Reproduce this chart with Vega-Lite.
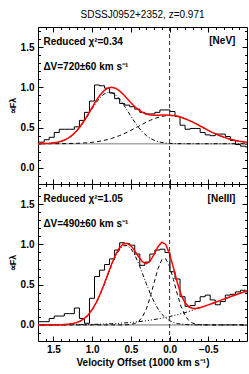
{
  "$schema": "https://vega.github.io/schema/vega-lite/v6.json",
  "padding": {"left": 7, "top": 10, "right": 0, "bottom": 0},
  "title": {"text": "SDSSJ0952+2352, z=0.971", "fontSize": 10, "fontWeight": "normal", "font": "Liberation Sans", "color": "black", "offset": 6, "anchor": "middle", "frame": "group"},
  "spacing": 0,
  "bounds": "flush",
  "config": {
    "view": {"stroke": "black", "strokeWidth": 1},
    "font": "Liberation Sans",
    "text": {"font": "Liberation Sans", "fontWeight": "bold"},
    "axis": {"grid": false, "domain": false, "labelFont": "Liberation Sans", "labelFontSize": 10, "labelFontWeight": "bold", "labelColor": "black", "titleFont": "Liberation Sans", "titleFontSize": 10, "titleFontWeight": "bold", "titleColor": "black", "tickColor": "black", "tickWidth": 1}
  },
  "datasets": {
    "hist": [
      {"v": 1.7825, "top": 0.32, "bot": 0.04},
      {"v": 1.7175, "top": 0.32, "bot": 0.04},
      {"v": 1.6525, "top": 0.32, "bot": 0.04},
      {"v": 1.5875, "top": 0.35, "bot": 0.04},
      {"v": 1.5225, "top": 0.38, "bot": 0.08},
      {"v": 1.4575, "top": 0.44, "bot": 0.11},
      {"v": 1.3925, "top": 0.48, "bot": 0.11},
      {"v": 1.3275, "top": 0.48, "bot": 0.14},
      {"v": 1.2625, "top": 0.48, "bot": 0.14},
      {"v": 1.1975, "top": 0.51, "bot": 0.21},
      {"v": 1.1325, "top": 0.59, "bot": 0.08},
      {"v": 1.0675, "top": 0.69, "bot": 0.02},
      {"v": 1.0025, "top": 0.83, "bot": 0.33},
      {"v": 0.9375, "top": 1.03, "bot": 0.60},
      {"v": 0.8725, "top": 1.02, "bot": 0.68},
      {"v": 0.8075, "top": 0.99, "bot": 0.75},
      {"v": 0.7425, "top": 0.93, "bot": 0.82},
      {"v": 0.6775, "top": 0.86, "bot": 0.93},
      {"v": 0.6125, "top": 0.80, "bot": 1.02},
      {"v": 0.5475, "top": 0.78, "bot": 1.01},
      {"v": 0.4825, "top": 0.76, "bot": 0.99},
      {"v": 0.4175, "top": 0.73, "bot": 0.88},
      {"v": 0.3525, "top": 0.69, "bot": 0.74},
      {"v": 0.2875, "top": 0.67, "bot": 0.78},
      {"v": 0.2225, "top": 0.67, "bot": 0.88},
      {"v": 0.1575, "top": 0.69, "bot": 0.93},
      {"v": 0.0925, "top": 0.72, "bot": 0.94},
      {"v": 0.0275, "top": 0.72, "bot": 0.90},
      {"v": -0.0375, "top": 0.70, "bot": 0.66},
      {"v": -0.1025, "top": 0.64, "bot": 0.57},
      {"v": -0.1675, "top": 0.53, "bot": 0.35},
      {"v": -0.2325, "top": 0.48, "bot": 0.23},
      {"v": -0.2975, "top": 0.49, "bot": 0.24},
      {"v": -0.3625, "top": 0.49, "bot": 0.29},
      {"v": -0.4275, "top": 0.44, "bot": 0.35},
      {"v": -0.4925, "top": 0.41, "bot": 0.37},
      {"v": -0.5575, "top": 0.40, "bot": 0.31},
      {"v": -0.6225, "top": 0.42, "bot": 0.25},
      {"v": -0.6875, "top": 0.42, "bot": 0.29},
      {"v": -0.7525, "top": 0.39, "bot": 0.37},
      {"v": -0.8175, "top": 0.34, "bot": 0.38},
      {"v": -0.8825, "top": 0.29, "bot": 0.41},
      {"v": -0.9475, "top": 0.27, "bot": 0.43},
      {"v": -1.0125, "top": 0.26, "bot": 0.41},
      {"v": -1.0775, "top": 0.26, "bot": 0.41}
    ],
    "model": [
      {"v": 1.75, "tr": 0.300, "t1": 0.300, "t2": 0.300, "br": 0.000, "b1": 0.000, "b2": 0.000, "b3": 0.000},
      {"v": 1.70, "tr": 0.301, "t1": 0.301, "t2": 0.300, "br": 0.000, "b1": 0.000, "b2": 0.000, "b3": 0.000},
      {"v": 1.65, "tr": 0.302, "t1": 0.302, "t2": 0.300, "br": 0.001, "b1": 0.000, "b2": 0.000, "b3": 0.001},
      {"v": 1.60, "tr": 0.303, "t1": 0.303, "t2": 0.300, "br": 0.001, "b1": 0.000, "b2": 0.000, "b3": 0.001},
      {"v": 1.55, "tr": 0.306, "t1": 0.306, "t2": 0.300, "br": 0.001, "b1": 0.000, "b2": 0.000, "b3": 0.001},
      {"v": 1.50, "tr": 0.311, "t1": 0.310, "t2": 0.300, "br": 0.001, "b1": 0.000, "b2": 0.000, "b3": 0.001},
      {"v": 1.45, "tr": 0.318, "t1": 0.318, "t2": 0.301, "br": 0.002, "b1": 0.001, "b2": 0.000, "b3": 0.001},
      {"v": 1.40, "tr": 0.331, "t1": 0.330, "t2": 0.301, "br": 0.003, "b1": 0.002, "b2": 0.000, "b3": 0.001},
      {"v": 1.35, "tr": 0.349, "t1": 0.348, "t2": 0.302, "br": 0.006, "b1": 0.004, "b2": 0.000, "b3": 0.002},
      {"v": 1.30, "tr": 0.376, "t1": 0.374, "t2": 0.302, "br": 0.010, "b1": 0.008, "b2": 0.000, "b3": 0.002},
      {"v": 1.25, "tr": 0.413, "t1": 0.409, "t2": 0.303, "br": 0.017, "b1": 0.015, "b2": 0.000, "b3": 0.003},
      {"v": 1.20, "tr": 0.461, "t1": 0.456, "t2": 0.305, "br": 0.030, "b1": 0.027, "b2": 0.000, "b3": 0.003},
      {"v": 1.15, "tr": 0.521, "t1": 0.514, "t2": 0.307, "br": 0.050, "b1": 0.046, "b2": 0.000, "b3": 0.004},
      {"v": 1.10, "tr": 0.592, "t1": 0.582, "t2": 0.310, "br": 0.081, "b1": 0.077, "b2": 0.000, "b3": 0.004},
      {"v": 1.05, "tr": 0.670, "t1": 0.657, "t2": 0.313, "br": 0.127, "b1": 0.122, "b2": 0.000, "b3": 0.005},
      {"v": 1.00, "tr": 0.752, "t1": 0.735, "t2": 0.318, "br": 0.191, "b1": 0.184, "b2": 0.000, "b3": 0.006},
      {"v": 0.95, "tr": 0.832, "t1": 0.808, "t2": 0.324, "br": 0.274, "b1": 0.266, "b2": 0.000, "b3": 0.008},
      {"v": 0.90, "tr": 0.902, "t1": 0.870, "t2": 0.331, "br": 0.377, "b1": 0.368, "b2": 0.000, "b3": 0.009},
      {"v": 0.85, "tr": 0.956, "t1": 0.915, "t2": 0.341, "br": 0.496, "b1": 0.485, "b2": 0.000, "b3": 0.011},
      {"v": 0.80, "tr": 0.990, "t1": 0.938, "t2": 0.352, "br": 0.626, "b1": 0.614, "b2": 0.000, "b3": 0.012},
      {"v": 0.75, "tr": 1.001, "t1": 0.935, "t2": 0.366, "br": 0.754, "b1": 0.739, "b2": 0.000, "b3": 0.015},
      {"v": 0.70, "tr": 0.990, "t1": 0.908, "t2": 0.382, "br": 0.866, "b1": 0.849, "b2": 0.000, "b3": 0.017},
      {"v": 0.65, "tr": 0.959, "t1": 0.859, "t2": 0.400, "br": 0.954, "b1": 0.934, "b2": 0.000, "b3": 0.020},
      {"v": 0.60, "tr": 0.914, "t1": 0.794, "t2": 0.420, "br": 1.005, "b1": 0.982, "b2": 0.000, "b3": 0.023},
      {"v": 0.55, "tr": 0.862, "t1": 0.719, "t2": 0.442, "br": 1.015, "b1": 0.986, "b2": 0.002, "b3": 0.027},
      {"v": 0.50, "tr": 0.808, "t1": 0.642, "t2": 0.466, "br": 0.983, "b1": 0.947, "b2": 0.006, "b3": 0.031},
      {"v": 0.45, "tr": 0.759, "t1": 0.568, "t2": 0.492, "br": 0.920, "b1": 0.869, "b2": 0.017, "b3": 0.035},
      {"v": 0.40, "tr": 0.719, "t1": 0.502, "t2": 0.517, "br": 0.846, "b1": 0.762, "b2": 0.044, "b3": 0.040},
      {"v": 0.35, "tr": 0.689, "t1": 0.446, "t2": 0.543, "br": 0.783, "b1": 0.638, "b2": 0.100, "b3": 0.046},
      {"v": 0.30, "tr": 0.669, "t1": 0.401, "t2": 0.568, "br": 0.761, "b1": 0.510, "b2": 0.199, "b3": 0.052},
      {"v": 0.25, "tr": 0.658, "t1": 0.368, "t2": 0.591, "br": 0.796, "b1": 0.391, "b2": 0.346, "b3": 0.059},
      {"v": 0.20, "tr": 0.654, "t1": 0.343, "t2": 0.611, "br": 0.877, "b1": 0.285, "b2": 0.526, "b3": 0.066},
      {"v": 0.15, "tr": 0.654, "t1": 0.327, "t2": 0.627, "br": 0.972, "b1": 0.199, "b2": 0.698, "b3": 0.075},
      {"v": 0.10, "tr": 0.656, "t1": 0.316, "t2": 0.640, "br": 1.027, "b1": 0.133, "b2": 0.810, "b3": 0.084},
      {"v": 0.05, "tr": 0.656, "t1": 0.309, "t2": 0.647, "br": 0.999, "b1": 0.085, "b2": 0.821, "b3": 0.093},
      {"v": 0.00, "tr": 0.655, "t1": 0.305, "t2": 0.650, "br": 0.882, "b1": 0.052, "b2": 0.727, "b3": 0.104},
      {"v": -0.05, "tr": 0.650, "t1": 0.303, "t2": 0.647, "br": 0.708, "b1": 0.030, "b2": 0.563, "b3": 0.115},
      {"v": -0.10, "tr": 0.641, "t1": 0.301, "t2": 0.640, "br": 0.524, "b1": 0.017, "b2": 0.380, "b3": 0.127},
      {"v": -0.15, "tr": 0.628, "t1": 0.301, "t2": 0.627, "br": 0.373, "b1": 0.009, "b2": 0.224, "b3": 0.140},
      {"v": -0.20, "tr": 0.611, "t1": 0.300, "t2": 0.611, "br": 0.274, "b1": 0.005, "b2": 0.116, "b3": 0.153},
      {"v": -0.25, "tr": 0.591, "t1": 0.300, "t2": 0.591, "br": 0.222, "b1": 0.002, "b2": 0.052, "b3": 0.168},
      {"v": -0.30, "tr": 0.568, "t1": 0.300, "t2": 0.568, "br": 0.204, "b1": 0.001, "b2": 0.021, "b3": 0.183},
      {"v": -0.35, "tr": 0.543, "t1": 0.300, "t2": 0.543, "br": 0.206, "b1": 0.000, "b2": 0.007, "b3": 0.198},
      {"v": -0.40, "tr": 0.517, "t1": 0.300, "t2": 0.517, "br": 0.217, "b1": 0.000, "b2": 0.002, "b3": 0.215},
      {"v": -0.45, "tr": 0.492, "t1": 0.300, "t2": 0.492, "br": 0.232, "b1": 0.000, "b2": 0.001, "b3": 0.231},
      {"v": -0.50, "tr": 0.466, "t1": 0.300, "t2": 0.466, "br": 0.249, "b1": 0.000, "b2": 0.000, "b3": 0.249},
      {"v": -0.55, "tr": 0.442, "t1": 0.300, "t2": 0.442, "br": 0.266, "b1": 0.000, "b2": 0.000, "b3": 0.266},
      {"v": -0.60, "tr": 0.420, "t1": 0.300, "t2": 0.420, "br": 0.284, "b1": 0.000, "b2": 0.000, "b3": 0.284},
      {"v": -0.65, "tr": 0.400, "t1": 0.300, "t2": 0.400, "br": 0.302, "b1": 0.000, "b2": 0.000, "b3": 0.302},
      {"v": -0.70, "tr": 0.382, "t1": 0.300, "t2": 0.382, "br": 0.320, "b1": 0.000, "b2": 0.000, "b3": 0.320},
      {"v": -0.75, "tr": 0.366, "t1": 0.300, "t2": 0.366, "br": 0.337, "b1": 0.000, "b2": 0.000, "b3": 0.337},
      {"v": -0.80, "tr": 0.352, "t1": 0.300, "t2": 0.352, "br": 0.355, "b1": 0.000, "b2": 0.000, "b3": 0.355},
      {"v": -0.85, "tr": 0.341, "t1": 0.300, "t2": 0.341, "br": 0.372, "b1": 0.000, "b2": 0.000, "b3": 0.372},
      {"v": -0.90, "tr": 0.331, "t1": 0.300, "t2": 0.331, "br": 0.389, "b1": 0.000, "b2": 0.000, "b3": 0.389},
      {"v": -0.95, "tr": 0.324, "t1": 0.300, "t2": 0.324, "br": 0.405, "b1": 0.000, "b2": 0.000, "b3": 0.405},
      {"v": -1.00, "tr": 0.318, "t1": 0.300, "t2": 0.318, "br": 0.420, "b1": 0.000, "b2": 0.000, "b3": 0.420},
      {"v": -1.05, "tr": 0.313, "t1": 0.300, "t2": 0.313, "br": 0.434, "b1": 0.000, "b2": 0.000, "b3": 0.434}
    ]
  },
  "vconcat": [
    {
      "width": 209,
      "height": 157,
      "resolve": {"axis": {"x": "independent", "y": "independent"}},
      "layer": [
        {"data": {"name": "model"}, "mark": {"type": "line", "color": "#aaaaaa", "strokeWidth": 1.6, "clip": true},
         "encoding": {
           "x": {"field": "v", "type": "quantitative", "scale": {"domain": [-1.0, 1.7], "reverse": true, "nice": false, "zero": false}, "axis": {"orient": "top", "labels": false, "title": null, "tickSize": -2.5, "values": [1.7, 1.6, 1.4, 1.3, 1.2, 1.1, 0.9, 0.8, 0.7, 0.6, 0.4, 0.3, 0.2, 0.1, -0.1, -0.2, -0.3, -0.4, -0.6, -0.7, -0.8, -0.9]}},
           "y": {"datum": 0.3, "type": "quantitative", "scale": {"domain": [-0.2, 1.75], "nice": false, "zero": false}, "axis": {"orient": "right", "labels": false, "title": null, "tickSize": -2.5, "values": [-0.1, 0.1, 0.2, 0.3, 0.4, 0.6, 0.7, 0.8, 0.9, 1.1, 1.2, 1.3, 1.4, 1.6, 1.7]}}
         }},
        {"data": {"name": "hist"}, "mark": {"type": "line", "interpolate": "step", "color": "black", "strokeWidth": 1, "clip": true},
         "encoding": {
           "x": {"field": "v", "type": "quantitative", "axis": null},
           "y": {"field": "top", "type": "quantitative", "axis": {"orient": "left", "ticks": false, "values": [0, 0.5, 1.0, 1.5], "format": ".1f", "labelPadding": 4, "title": "∝Fλ", "titlePadding": 3, "titleFontSize": 9}}
         }},
        {"data": {"name": "model"}, "mark": {"type": "line", "color": "black", "strokeWidth": 1, "strokeDash": [4, 3], "clip": true},
         "encoding": {
           "x": {"field": "v", "type": "quantitative", "axis": {"orient": "bottom", "labels": false, "title": null, "tickSize": -2.5, "values": [1.7, 1.6, 1.4, 1.3, 1.2, 1.1, 0.9, 0.8, 0.7, 0.6, 0.4, 0.3, 0.2, 0.1, -0.1, -0.2, -0.3, -0.4, -0.6, -0.7, -0.8, -0.9]}},
           "y": {"field": "t2", "type": "quantitative", "axis": {"orient": "left", "labels": false, "title": null, "tickSize": -2.5, "values": [-0.1, 0.1, 0.2, 0.3, 0.4, 0.6, 0.7, 0.8, 0.9, 1.1, 1.2, 1.3, 1.4, 1.6, 1.7]}}
         }},
        {"data": {"name": "model"}, "mark": {"type": "line", "color": "black", "strokeWidth": 1, "strokeDash": [4, 2, 1, 2], "clip": true},
         "encoding": {
           "x": {"field": "v", "type": "quantitative", "axis": {"orient": "top", "labels": false, "title": null, "tickSize": -5, "values": [1.5, 1.0, 0.5, 0.0, -0.5]}},
           "y": {"field": "t1", "type": "quantitative", "axis": {"orient": "right", "labels": false, "title": null, "tickSize": -5, "values": [0, 0.5, 1.0, 1.5]}}
         }},
        {"data": {"name": "model"}, "mark": {"type": "line", "color": "#ff0000", "strokeWidth": 1.5, "clip": true},
         "encoding": {
           "x": {"field": "v", "type": "quantitative", "axis": {"orient": "bottom", "labels": false, "title": null, "tickSize": -5, "values": [1.5, 1.0, 0.5, 0.0, -0.5]}},
           "y": {"field": "tr", "type": "quantitative", "axis": {"orient": "left", "labels": false, "title": null, "tickSize": -5, "values": [0, 0.5, 1.0, 1.5]}}
         }},
        {"data": {"values": [{}]}, "mark": {"type": "rule", "color": "#333333", "strokeWidth": 1, "strokeDash": [4, 3]},
         "encoding": {"x": {"datum": 0, "type": "quantitative", "axis": null}}},
        {"data": {"values": [{"t": "Reduced χ²=0.34"}]}, "mark": {"type": "text", "align": "left", "baseline": "middle", "fontSize": 10, "color": "black"},
         "encoding": {"x": {"datum": 1.63, "type": "quantitative", "axis": null}, "y": {"datum": 1.565, "type": "quantitative", "axis": null}, "text": {"field": "t"}}},
        {"data": {"values": [{"t": "ΔV=720±60 km s⁻¹"}]}, "mark": {"type": "text", "align": "left", "baseline": "middle", "fontSize": 10, "color": "black"},
         "encoding": {"x": {"datum": 1.63, "type": "quantitative", "axis": null}, "y": {"datum": 1.255, "type": "quantitative", "axis": null}, "text": {"field": "t"}}},
        {"data": {"values": [{"t": "[NeV]"}]}, "mark": {"type": "text", "align": "right", "baseline": "middle", "fontSize": 10, "color": "black"},
         "encoding": {"x": {"datum": -0.85, "type": "quantitative", "axis": null}, "y": {"datum": 1.57, "type": "quantitative", "axis": null}, "text": {"field": "t"}}}
      ]
    },
    {
      "width": 209,
      "height": 157,
      "resolve": {"axis": {"x": "independent", "y": "independent"}},
      "layer": [
        {"data": {"name": "model"}, "mark": {"type": "line", "color": "#aaaaaa", "strokeWidth": 1.6, "clip": true},
         "encoding": {
           "x": {"field": "v", "type": "quantitative", "scale": {"domain": [-1.0, 1.7], "reverse": true, "nice": false, "zero": false}, "axis": {"orient": "top", "labels": false, "title": null, "tickSize": -2.5, "values": [1.7, 1.6, 1.4, 1.3, 1.2, 1.1, 0.9, 0.8, 0.7, 0.6, 0.4, 0.3, 0.2, 0.1, -0.1, -0.2, -0.3, -0.4, -0.6, -0.7, -0.8, -0.9]}},
           "y": {"datum": 0.0, "type": "quantitative", "scale": {"domain": [-0.2, 1.75], "nice": false, "zero": false}, "axis": {"orient": "right", "labels": false, "title": null, "tickSize": -2.5, "values": [-0.1, 0.1, 0.2, 0.3, 0.4, 0.6, 0.7, 0.8, 0.9, 1.1, 1.2, 1.3, 1.4, 1.6, 1.7]}}
         }},
        {"data": {"name": "hist"}, "mark": {"type": "line", "interpolate": "step", "color": "black", "strokeWidth": 1, "clip": true},
         "encoding": {
           "x": {"field": "v", "type": "quantitative", "axis": {"orient": "bottom", "ticks": false, "values": [1.5, 1.0, 0.5, 0.0, -0.5], "format": ".1f", "labelPadding": 3, "title": "Velocity Offset (1000 km s⁻¹)", "titlePadding": 3}},
           "y": {"field": "bot", "type": "quantitative", "axis": {"orient": "left", "ticks": false, "values": [0, 0.5, 1.0, 1.5], "format": ".1f", "labelPadding": 4, "title": "∝Fλ", "titlePadding": 3, "titleFontSize": 9}}
         }},
        {"data": {"name": "model"}, "mark": {"type": "line", "color": "black", "strokeWidth": 1, "strokeDash": [4, 2, 1, 2, 1, 2, 1, 2], "clip": true},
         "encoding": {
           "x": {"field": "v", "type": "quantitative", "axis": null},
           "y": {"field": "b3", "type": "quantitative", "axis": null}
         }},
        {"data": {"name": "model"}, "mark": {"type": "line", "color": "black", "strokeWidth": 1, "strokeDash": [4, 3], "clip": true},
         "encoding": {
           "x": {"field": "v", "type": "quantitative", "axis": {"orient": "bottom", "labels": false, "title": null, "tickSize": -2.5, "values": [1.7, 1.6, 1.4, 1.3, 1.2, 1.1, 0.9, 0.8, 0.7, 0.6, 0.4, 0.3, 0.2, 0.1, -0.1, -0.2, -0.3, -0.4, -0.6, -0.7, -0.8, -0.9]}},
           "y": {"field": "b2", "type": "quantitative", "axis": {"orient": "left", "labels": false, "title": null, "tickSize": -2.5, "values": [-0.1, 0.1, 0.2, 0.3, 0.4, 0.6, 0.7, 0.8, 0.9, 1.1, 1.2, 1.3, 1.4, 1.6, 1.7]}}
         }},
        {"data": {"name": "model"}, "mark": {"type": "line", "color": "black", "strokeWidth": 1, "strokeDash": [4, 2, 1, 2], "clip": true},
         "encoding": {
           "x": {"field": "v", "type": "quantitative", "axis": {"orient": "top", "labels": false, "title": null, "tickSize": -5, "values": [1.5, 1.0, 0.5, 0.0, -0.5]}},
           "y": {"field": "b1", "type": "quantitative", "axis": {"orient": "right", "labels": false, "title": null, "tickSize": -5, "values": [0, 0.5, 1.0, 1.5]}}
         }},
        {"data": {"name": "model"}, "mark": {"type": "line", "color": "#ff0000", "strokeWidth": 1.5, "clip": true},
         "encoding": {
           "x": {"field": "v", "type": "quantitative", "axis": {"orient": "bottom", "labels": false, "title": null, "tickSize": -5, "values": [1.5, 1.0, 0.5, 0.0, -0.5]}},
           "y": {"field": "br", "type": "quantitative", "axis": {"orient": "left", "labels": false, "title": null, "tickSize": -5, "values": [0, 0.5, 1.0, 1.5]}}
         }},
        {"data": {"values": [{}]}, "mark": {"type": "rule", "color": "#333333", "strokeWidth": 1, "strokeDash": [4, 3]},
         "encoding": {"x": {"datum": 0, "type": "quantitative", "axis": null}}},
        {"data": {"values": [{"t": "Reduced χ²=1.05"}]}, "mark": {"type": "text", "align": "left", "baseline": "middle", "fontSize": 10, "color": "black"},
         "encoding": {"x": {"datum": 1.63, "type": "quantitative", "axis": null}, "y": {"datum": 1.565, "type": "quantitative", "axis": null}, "text": {"field": "t"}}},
        {"data": {"values": [{"t": "ΔV=490±60 km s⁻¹"}]}, "mark": {"type": "text", "align": "left", "baseline": "middle", "fontSize": 10, "color": "black"},
         "encoding": {"x": {"datum": 1.63, "type": "quantitative", "axis": null}, "y": {"datum": 1.255, "type": "quantitative", "axis": null}, "text": {"field": "t"}}},
        {"data": {"values": [{"t": "[NeIII]"}]}, "mark": {"type": "text", "align": "right", "baseline": "middle", "fontSize": 10, "color": "black"},
         "encoding": {"x": {"datum": -0.85, "type": "quantitative", "axis": null}, "y": {"datum": 1.56, "type": "quantitative", "axis": null}, "text": {"field": "t"}}}
      ]
    }
  ]
}
